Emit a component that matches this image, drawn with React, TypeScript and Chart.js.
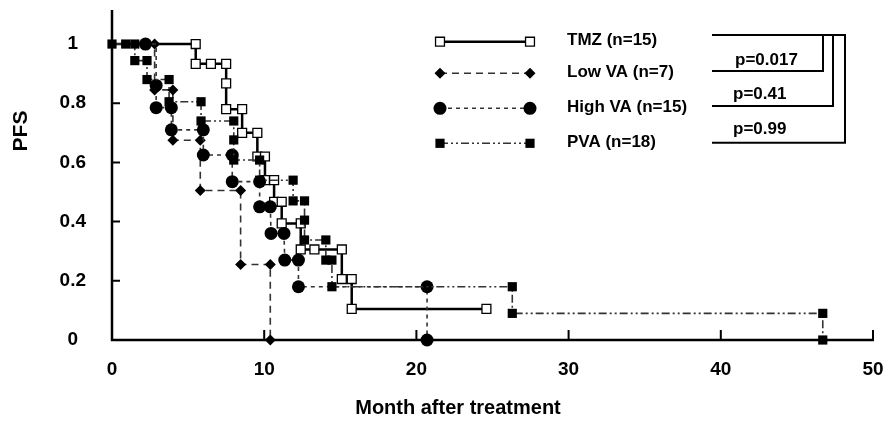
import React, { useEffect, useRef } from 'react';
import { Chart, registerables } from 'chart.js';

Chart.register(...registerables);

// ---------- data ----------
const seriesLabels = ['TMZ (n=15)', 'Low VA (n=7)', 'High VA (n=15)', 'PVA (n=18)'];

const tmzMonths = [0, 5.5, 5.5, 6.5, 7.5, 7.5, 7.5, 8.55, 8.55, 9.55, 9.55, 10.05, 10.05, 10.65, 10.65, 11.15, 11.15, 12.4, 12.4, 13.3, 15.1, 15.1, 15.75, 15.75, 24.6];
const tmzPFS = [1, 1, 0.933, 0.933, 0.933, 0.867, 0.78, 0.78, 0.7, 0.7, 0.62, 0.62, 0.54, 0.54, 0.467, 0.467, 0.394, 0.394, 0.306, 0.306, 0.306, 0.206, 0.206, 0.105, 0.105];

const lowVaMonths = [0, 2.8, 2.8, 4.0, 4.0, 5.8, 5.8, 8.45, 8.45, 10.4, 10.4];
const lowVaPFS = [1, 1, 0.845, 0.845, 0.675, 0.675, 0.505, 0.505, 0.255, 0.255, 0];

const highVaMonths = [0, 2.2, 2.9, 2.9, 2.9, 3.9, 3.9, 6.0, 6.0, 7.9, 7.9, 9.7, 9.7, 10.4, 10.45, 11.3, 11.35, 12.25, 12.25, 20.7, 20.7];
const highVaPFS = [1, 1, 1, 0.86, 0.785, 0.785, 0.71, 0.71, 0.625, 0.625, 0.535, 0.535, 0.45, 0.45, 0.36, 0.36, 0.27, 0.27, 0.18, 0.18, 0];

const pvaMonths = [0, 0.9, 1.5, 1.5, 2.3, 2.3, 3.75, 3.75, 5.85, 5.85, 8.0, 8.0, 8.0, 9.7, 9.7, 11.9, 11.9, 12.65, 12.65, 12.65, 14.05, 14.05, 14.45, 14.45, 26.3, 26.3, 46.7, 46.7];
const pvaPFS = [1, 1, 1, 0.944, 0.944, 0.88, 0.88, 0.805, 0.805, 0.74, 0.74, 0.676, 0.608, 0.608, 0.54, 0.54, 0.47, 0.47, 0.405, 0.338, 0.338, 0.27, 0.27, 0.18, 0.18, 0.09, 0.09, 0];

// points whose markers are not visible in the original (hidden under others)
const tmzHiddenMarkers = [0];
const lowVaHiddenMarkers = [0];
const highVaHiddenMarkers = [0, 2];
const pvaHiddenMarkers: number[] = [];

const xTickValues = [0, 10, 20, 30, 40, 50];
const xTickLabels = ['0', '10', '20', '30', '40', '50'];
const yTickValues = [0, 0.2, 0.4, 0.6, 0.8, 1];
const yTickLabels = ['0', '0.2', '0.4', '0.6', '0.8', '1'];
const pValueLabels = ['p=0.017', 'p=0.41', 'p=0.99'];
const xAxisTitle = 'Month after treatment';
const yAxisTitle = 'PFS';

// ---------- styles ----------
const FONT = '"Liberation Sans", Arial, sans-serif';

const toPoints = (xs: number[], ys: number[]) => xs.map((x, i) => ({ x, y: ys[i] }));
const radiusFn = (r: number, hidden: number[]) => (c: any) => (hidden.includes(c.dataIndex) ? 0 : r);

type Marker = { style: string; radius: number; fill: string; stroke: string; bw: number };

function drawMarker(ctx: CanvasRenderingContext2D, m: Marker, x: number, y: number) {
  ctx.save();
  ctx.fillStyle = m.fill;
  ctx.strokeStyle = m.stroke;
  ctx.lineWidth = m.bw;
  ctx.setLineDash([]);
  ctx.beginPath();
  if (m.style === 'rect') {
    const s = Math.SQRT1_2 * m.radius;
    ctx.rect(x - s, y - s, 2 * s, 2 * s);
  } else if (m.style === 'rectRot') {
    ctx.moveTo(x, y - m.radius);
    ctx.lineTo(x + m.radius, y);
    ctx.lineTo(x, y + m.radius);
    ctx.lineTo(x - m.radius, y);
    ctx.closePath();
  } else {
    ctx.arc(x, y, m.radius, 0, Math.PI * 2);
  }
  ctx.fill();
  if (m.bw > 0) ctx.stroke();
  ctx.restore();
}

const axesPlugin = {
  id: 'customAxes',
  beforeDatasetsDraw(chart: any) {
    const ctx = chart.ctx as CanvasRenderingContext2D;
    const xs = chart.scales.x;
    const ys = chart.scales.y;
    const area = chart.chartArea;
    ctx.save();
    ctx.strokeStyle = '#000';
    ctx.lineWidth = 2.5;
    ctx.setLineDash([]);
    ctx.beginPath();
    ctx.moveTo(area.left, area.top);
    ctx.lineTo(area.left, area.bottom);
    ctx.lineTo(area.right + 1, area.bottom);
    ctx.stroke();
    ctx.lineWidth = 2;
    ctx.beginPath();
    ys.ticks.forEach((t: any) => {
      const py = ys.getPixelForValue(t.value);
      if (t.value === 0) return;
      ctx.moveTo(area.left, py);
      ctx.lineTo(area.left + 8, py);
    });
    xs.ticks.forEach((t: any) => {
      const px = xs.getPixelForValue(t.value);
      if (t.value === 0) return;
      ctx.moveTo(px, area.bottom);
      ctx.lineTo(px, area.bottom - 10);
    });
    ctx.stroke();
    ctx.restore();
  },
  afterDraw(chart: any) {
    const ctx = chart.ctx as CanvasRenderingContext2D;
    const datasets = chart.data.datasets;
    ctx.save();
    // axis titles
    ctx.fillStyle = '#000';
    ctx.font = `bold 20px ${FONT}`;
    ctx.textAlign = 'center';
    ctx.textBaseline = 'alphabetic';
    ctx.fillText(xAxisTitle, 458, 414);
    ctx.save();
    ctx.translate(27, 131);
    ctx.rotate(-Math.PI / 2);
    ctx.font = `bold 21px ${FONT}`;
    ctx.fillText(yAxisTitle, 0, 0);
    ctx.restore();

    // legend
    const rowY = [41.7, 73.3, 108.3, 143.3];
    const textBase = [45, 76.5, 111.5, 146.5];
    const legendRadius = [6.3, 5.5, 6.5, 6.5];
    const x0 = 440;
    const x1 = 530;
    datasets.forEach((ds: any, i: number) => {
      ctx.save();
      ctx.strokeStyle = ds.borderColor;
      ctx.lineWidth = ds.borderWidth;
      ctx.setLineDash(ds.borderDash || []);
      ctx.beginPath();
      ctx.moveTo(x0, rowY[i]);
      ctx.lineTo(x1, rowY[i]);
      ctx.stroke();
      ctx.restore();
      const m: Marker = {
        style: ds.pointStyle,
        radius: legendRadius[i],
        fill: ds.pointBackgroundColor,
        stroke: ds.pointBorderColor,
        bw: ds.pointBorderWidth,
      };
      drawMarker(ctx, m, x0, rowY[i]);
      drawMarker(ctx, m, x1, rowY[i]);
      ctx.fillStyle = '#000';
      ctx.font = `bold 17px ${FONT}`;
      ctx.textAlign = 'left';
      ctx.textBaseline = 'alphabetic';
      ctx.fillText(ds.label, 567, textBase[i]);
    });

    // p-value brackets
    ctx.strokeStyle = '#000';
    ctx.lineWidth = 2;
    ctx.setLineDash([]);
    ctx.beginPath();
    ctx.moveTo(712, 35); ctx.lineTo(846, 35);
    ctx.moveTo(712, 71); ctx.lineTo(823, 71); ctx.lineTo(823, 35);
    ctx.moveTo(712, 106); ctx.lineTo(833, 106); ctx.lineTo(833, 35);
    ctx.moveTo(712, 142.7); ctx.lineTo(845, 142.7); ctx.lineTo(845, 35);
    ctx.stroke();
    ctx.fillStyle = '#000';
    ctx.font = `bold 17px ${FONT}`;
    ctx.textAlign = 'left';
    const pBase = [64.5, 98.5, 133.5];
    const pX = [735, 733, 733];
    pValueLabels.forEach((p, i) => ctx.fillText(p, pX[i], pBase[i]));
    ctx.restore();
  },
};

export default function App() {
  const canvasRef = useRef<HTMLCanvasElement | null>(null);

  useEffect(() => {
    if (!canvasRef.current) return;
    const tickFont = { family: FONT, size: 19, weight: 'bold' as const };
    const chart = new Chart(canvasRef.current, {
      type: 'scatter',
      data: {
        datasets: [
          {
            label: seriesLabels[0],
            data: toPoints(tmzMonths, tmzPFS),
            showLine: true,
            borderColor: '#000',
            borderWidth: 2.5,
            borderDash: [],
            pointStyle: 'rect',
            pointRadius: radiusFn(6.3, tmzHiddenMarkers),
            pointBackgroundColor: '#fff',
            pointBorderColor: '#000',
            pointBorderWidth: 1.3,
            tension: 0,
            clip: false,
            order: 4,
          },
          {
            label: seriesLabels[1],
            data: toPoints(lowVaMonths, lowVaPFS),
            showLine: true,
            borderColor: '#333',
            borderWidth: 1.6,
            borderDash: [7, 5],
            pointStyle: 'rectRot',
            pointRadius: radiusFn(5.5, lowVaHiddenMarkers),
            pointBackgroundColor: '#000',
            pointBorderColor: '#000',
            pointBorderWidth: 0,
            tension: 0,
            clip: false,
            order: 3,
          },
          {
            label: seriesLabels[2],
            data: toPoints(highVaMonths, highVaPFS),
            showLine: true,
            borderColor: '#333',
            borderWidth: 1.6,
            borderDash: [4, 4],
            pointStyle: 'circle',
            pointRadius: radiusFn(6.5, highVaHiddenMarkers),
            pointBackgroundColor: '#000',
            pointBorderColor: '#000',
            pointBorderWidth: 0,
            tension: 0,
            clip: false,
            order: 2,
          },
          {
            label: seriesLabels[3],
            data: toPoints(pvaMonths, pvaPFS),
            showLine: true,
            borderColor: '#333',
            borderWidth: 1.6,
            borderDash: [8, 3, 2, 3, 2, 3],
            pointStyle: 'rect',
            pointRadius: radiusFn(6.5, pvaHiddenMarkers),
            pointBackgroundColor: '#000',
            pointBorderColor: '#000',
            pointBorderWidth: 0,
            tension: 0,
            clip: false,
            order: 1,
          },
        ] as any,
      },
      options: {
        responsive: false,
        animation: false,
        layout: { padding: { left: 0, right: 18, top: 10, bottom: 0 } },
        plugins: {
          legend: { display: false },
          tooltip: { enabled: false },
        },
        events: [],
        scales: {
          x: {
            type: 'linear',
            position: 'bottom',
            min: 0,
            max: 50,
            grid: { display: false, drawTicks: false },
            border: { display: false },
            ticks: {
              color: '#000',
              font: tickFont,
              padding: 18,
              maxRotation: 0,
              autoSkip: false,
              callback: (_v: any, i: number) => xTickLabels[i],
            },
            afterBuildTicks: (s: any) => {
              s.ticks = xTickValues.map((v) => ({ value: v }));
            },
            afterFit: (s: any) => {
              s.height = 81;
              s.paddingLeft = 0;
              s.paddingRight = 0;
            },
          },
          y: {
            type: 'linear',
            min: 0,
            max: 1.115,
            grid: { display: false, drawTicks: false },
            border: { display: false },
            ticks: {
              color: '#000',
              font: tickFont,
              padding: 26,
              crossAlign: 'center',
              autoSkip: false,
              callback: (_v: any, i: number) => yTickLabels[i],
            },
            afterBuildTicks: (s: any) => {
              s.ticks = yTickValues.map((v) => ({ value: v }));
            },
            afterFit: (s: any) => {
              s.width = 112;
              s.paddingTop = 0;
              s.paddingBottom = 0;
            },
          },
        },
      } as any,
      plugins: [axesPlugin],
    });
    return () => chart.destroy();
  }, []);

  return (
    <div style={{ position: 'absolute', left: 0, top: 0, width: 891, height: 421, background: '#fff' }}>
      <canvas ref={canvasRef} width={891} height={421} />
    </div>
  );
}
